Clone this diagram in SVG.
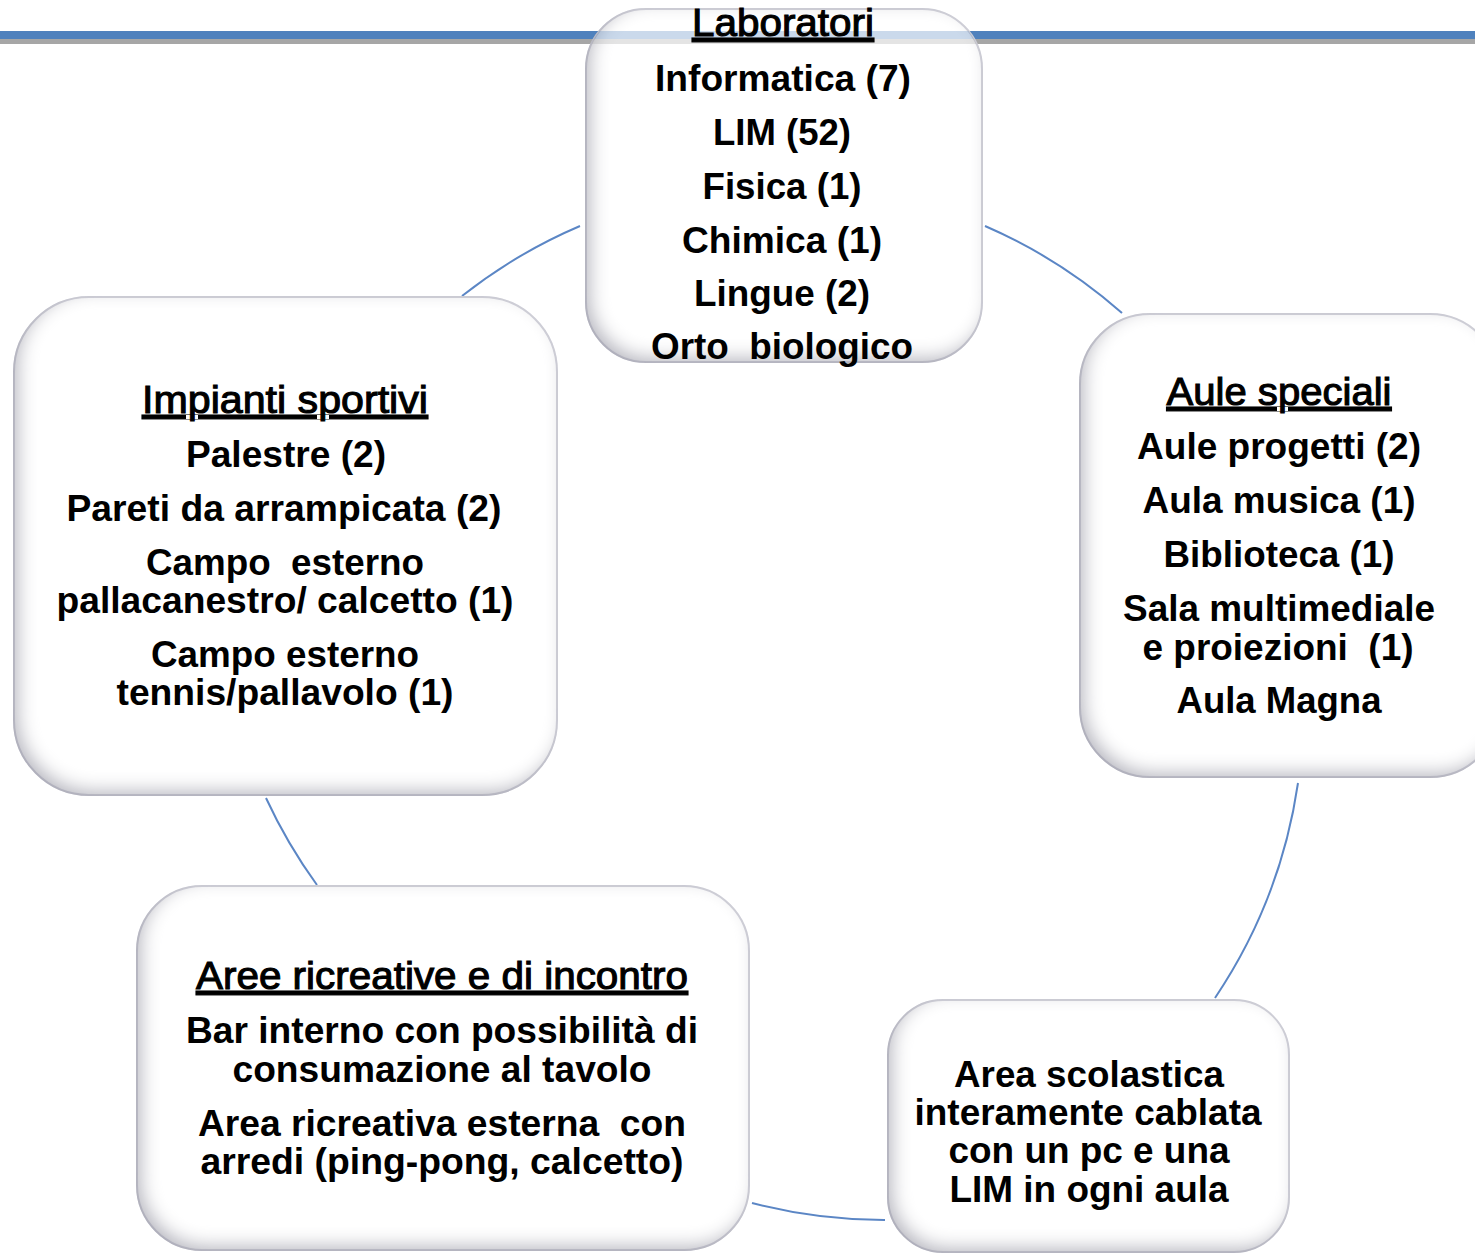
<svg xmlns="http://www.w3.org/2000/svg" width="1475" height="1253" viewBox="0 0 1475 1253">
  <style>
    .box { fill: #ffffff; stroke: #d4d4dc; stroke-width: 2; filter: url(#bevel); }
    .conn { fill: none; stroke: #5b86c5; stroke-width: 2; }
    text { font-family: "Liberation Sans", Arial, sans-serif; fill: #000; text-anchor: middle; }
    .b { font-weight: bold; font-size: 37px; }
    .h { font-weight: normal; font-size: 39px; text-decoration: underline; stroke: #000; stroke-width: 1.1; }
  </style>
  <defs>
    <filter id="bevel" x="-10%" y="-10%" width="120%" height="120%">
      <feFlood flood-color="#9494a4" flood-opacity="0.75" result="f"/>
      <feComposite in="f" in2="SourceAlpha" operator="out" result="outside"/>
      <feGaussianBlur in="outside" stdDeviation="9" result="blur"/>
      <feOffset in="blur" dx="6" dy="-6" result="off"/>
      <feComposite in="off" in2="SourceAlpha" operator="in" result="inner"/>
      <feMerge><feMergeNode in="SourceGraphic"/><feMergeNode in="inner"/></feMerge>
    </filter>
    <clipPath id="labClip"><rect x="586" y="9" width="396" height="353" rx="60"/></clipPath>
  </defs>

  <rect width="1475" height="1253" fill="#ffffff"/>

  <g id="topbar">
    <rect x="0" y="31" width="1475" height="8" fill="#4f81bd"/>
    <rect x="0" y="39" width="1475" height="5" fill="#a6a6a6"/>
  </g>

  <g id="connectors">
    <path class="conn" d="M462,296 A520,520 0 0 1 580,226"/>
    <path class="conn" d="M985,226 A520,520 0 0 1 1122,313"/>
    <path class="conn" d="M1298,783 A520,520 0 0 1 1215,998"/>
    <path class="conn" d="M885,1220 A520,520 0 0 1 752,1203"/>
    <path class="conn" d="M317,885 A520,520 0 0 1 266,798"/>
  </g>

  <g id="laboratori">
    <rect class="box" x="586" y="9" width="396" height="353" rx="60"/>
    <g clip-path="url(#labClip)" opacity="0.3">
      <rect x="580" y="31" width="410" height="8" fill="#4f81bd"/>
      <rect x="580" y="39" width="410" height="5" fill="#a6a6a6"/>
    </g>
    <text class="h" x="783" y="36" textLength="182" lengthAdjust="spacingAndGlyphs">Laboratori</text>
    <text class="b" x="783" y="91" textLength="256" lengthAdjust="spacingAndGlyphs">Informatica (7)</text>
    <text class="b" x="782" y="145" textLength="138" lengthAdjust="spacingAndGlyphs">LIM (52)</text>
    <text class="b" x="782" y="199" textLength="159" lengthAdjust="spacingAndGlyphs">Fisica (1)</text>
    <text class="b" x="782" y="253" textLength="200" lengthAdjust="spacingAndGlyphs">Chimica (1)</text>
    <text class="b" x="782" y="306" textLength="176" lengthAdjust="spacingAndGlyphs">Lingue (2)</text>
    <text class="b" x="782" y="359" textLength="262" lengthAdjust="spacingAndGlyphs" xml:space="preserve">Orto  biologico</text>
  </g>

  <g id="impianti">
    <rect class="box" x="14" y="297" width="543" height="498" rx="75"/>
    <text class="h" x="285" y="413" textLength="286" lengthAdjust="spacingAndGlyphs">Impianti sportivi</text>
    <text class="b" x="286" y="467" textLength="200" lengthAdjust="spacingAndGlyphs">Palestre (2)</text>
    <text class="b" x="284" y="521" textLength="435" lengthAdjust="spacingAndGlyphs">Pareti da arrampicata (2)</text>
    <text class="b" x="285" y="575" textLength="278" lengthAdjust="spacingAndGlyphs" xml:space="preserve">Campo  esterno</text>
    <text class="b" x="285" y="613" textLength="457" lengthAdjust="spacingAndGlyphs">pallacanestro/ calcetto (1)</text>
    <text class="b" x="285" y="667" textLength="268" lengthAdjust="spacingAndGlyphs">Campo esterno</text>
    <text class="b" x="285" y="705" textLength="337" lengthAdjust="spacingAndGlyphs">tennis/pallavolo (1)</text>
  </g>

  <g id="aule-speciali">
    <rect class="box" x="1080" y="314" width="420" height="463" rx="70"/>
    <text class="h" x="1279" y="405" textLength="225" lengthAdjust="spacingAndGlyphs">Aule speciali</text>
    <text class="b" x="1279" y="459" textLength="284" lengthAdjust="spacingAndGlyphs">Aule progetti (2)</text>
    <text class="b" x="1279" y="513" textLength="273" lengthAdjust="spacingAndGlyphs">Aula musica (1)</text>
    <text class="b" x="1279" y="567" textLength="231" lengthAdjust="spacingAndGlyphs">Biblioteca (1)</text>
    <text class="b" x="1279" y="621" textLength="312" lengthAdjust="spacingAndGlyphs">Sala multimediale</text>
    <text class="b" x="1278" y="660" textLength="271" lengthAdjust="spacingAndGlyphs" xml:space="preserve">e proiezioni  (1)</text>
    <text class="b" x="1279" y="713" textLength="205" lengthAdjust="spacingAndGlyphs">Aula Magna</text>
  </g>

  <g id="aree-ricreative">
    <rect class="box" x="137" y="886" width="612" height="364" rx="65"/>
    <text class="h" x="442" y="989" textLength="492" lengthAdjust="spacingAndGlyphs">Aree ricreative e di incontro</text>
    <text class="b" x="442" y="1043" textLength="512" lengthAdjust="spacingAndGlyphs">Bar interno con possibilità di</text>
    <text class="b" x="442" y="1082" textLength="419" lengthAdjust="spacingAndGlyphs">consumazione al tavolo</text>
    <text class="b" x="442" y="1136" textLength="488" lengthAdjust="spacingAndGlyphs" xml:space="preserve">Area ricreativa esterna  con</text>
    <text class="b" x="442" y="1174" textLength="483" lengthAdjust="spacingAndGlyphs">arredi (ping-pong, calcetto)</text>
  </g>

  <g id="area-scolastica">
    <rect class="box" x="888" y="1000" width="401" height="252" rx="55"/>
    <text class="b" x="1089" y="1087" textLength="270" lengthAdjust="spacingAndGlyphs">Area scolastica</text>
    <text class="b" x="1088" y="1125" textLength="347" lengthAdjust="spacingAndGlyphs">interamente cablata</text>
    <text class="b" x="1089" y="1163" textLength="281" lengthAdjust="spacingAndGlyphs">con un pc e una</text>
    <text class="b" x="1089" y="1202" textLength="279" lengthAdjust="spacingAndGlyphs">LIM in ogni aula</text>
  </g>
</svg>
